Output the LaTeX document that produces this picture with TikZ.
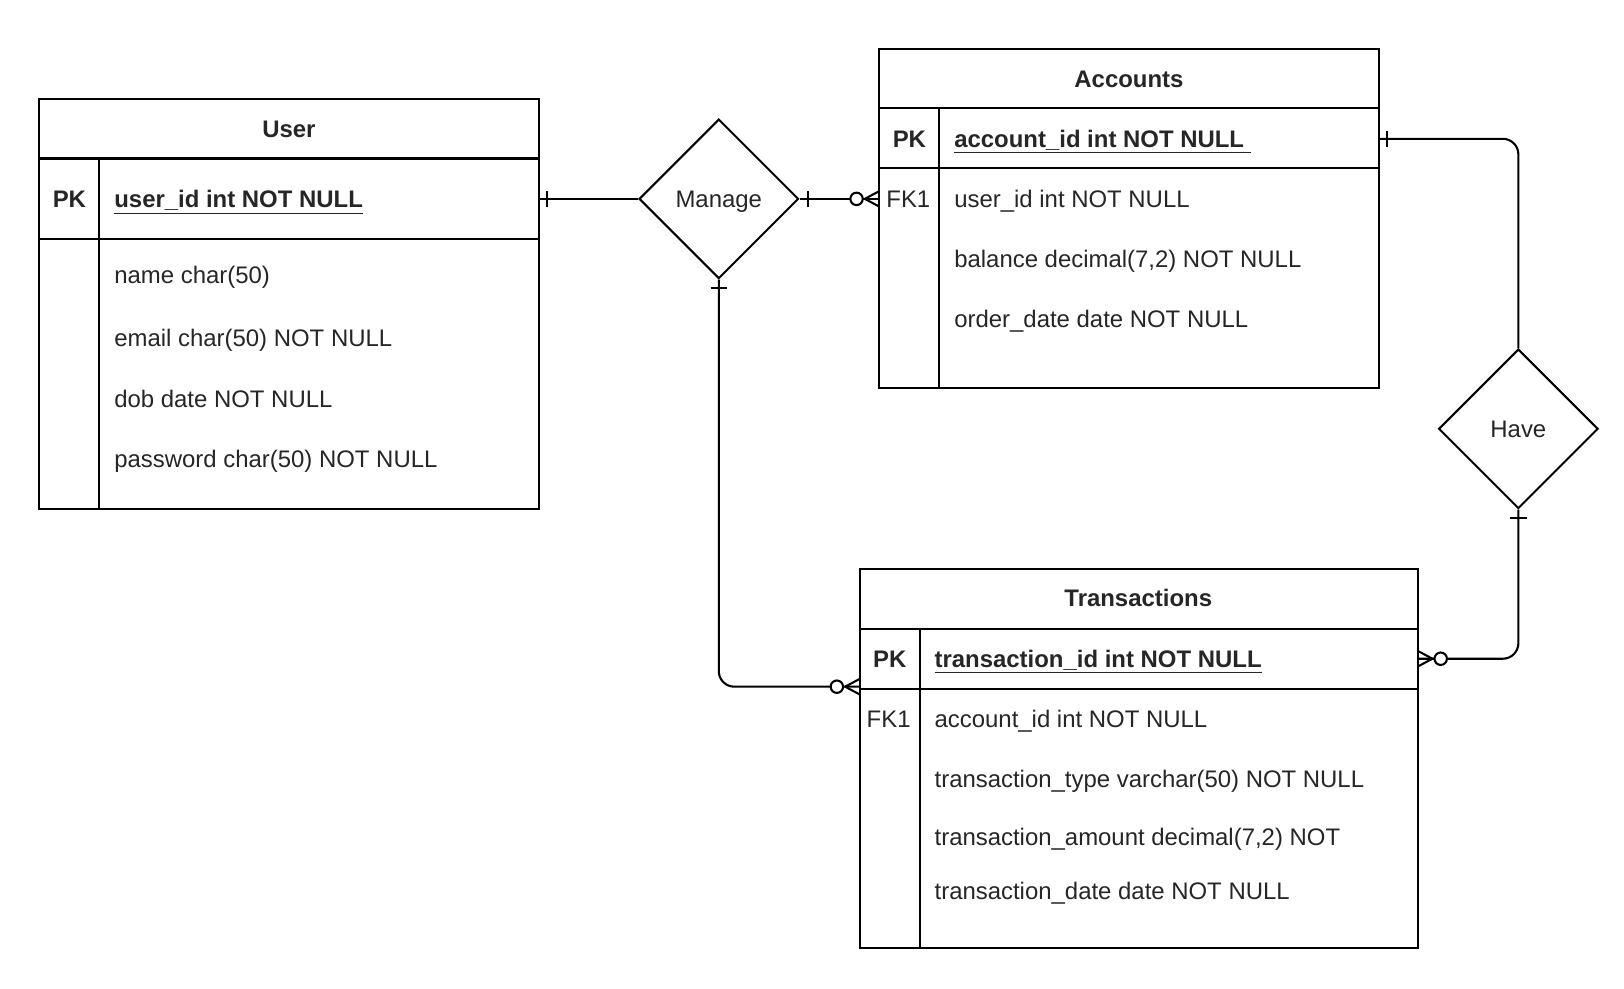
\documentclass[tikz,border=0pt]{standalone}
\usepackage{fontspec}
\setmainfont{Liberation Sans}
\usetikzlibrary{calc,shapes.geometric}
\newcommand\barmark[2]{\draw[conn] ($(#1)+(#2:8)$) +(#2+90:8) -- +(#2-90:8);}
\newcommand\zmany[2]{%
  \draw[conn] ($(#1)+(#2:14)$) -- ($(#1)+(#2+90:7.5)$)
              ($(#1)+(#2:14)$) -- ($(#1)+(#2-90:7.5)$);
  \draw[conn,fill=white] ($(#1)+(#2:22)$) circle[radius=3pt];}
\begin{document}
\begin{tikzpicture}[x=0.5pt,y=-0.5pt,
  conn/.style={line width=1pt,black},
  tbox/.style={draw,line width=1pt,anchor=north west,inner sep=0pt,outer sep=0pt},
  txt/.style={font=\fontsize{11.55}{13}\selectfont,text=black!85,inner sep=0pt,anchor=base},
  hdr/.style={txt,font=\fontsize{11.55}{13}\selectfont\bfseries},
  attr/.style={txt,anchor=base west},
  pkattr/.style={attr,font=\fontsize{11.55}{13}\selectfont\bfseries},
  rel/.style={diamond,draw,line width=1pt,minimum width=77pt,minimum height=77pt,
              inner sep=0pt,text depth=0pt,font=\fontsize{11.55}{13}\selectfont,text=black!85,draw=black}]
\useasboundingbox (0,0) rectangle (1568,954);
\fill[white] (0,0) rectangle (1568,954);

% ---------- User ----------
\node[tbox,minimum width=241pt,minimum height=197.5pt] (user) at (38,96) {};
\draw[conn] (38,153) -- (520,153);
\draw[conn] (38,231) -- (520,231);
\draw[conn] (96,153) -- (96,491);
\node[hdr] (userT) at (279,133) {User};
\node[hdr] (userPKk) at (67,200) {PK};
\node[pkattr] (upk) at (110,200) {\underline{user\_id int NOT NULL}};
\node[attr] (u1) at (110,274) {name char(50)};
\node[attr] (u2) at (110,335) {email char(50) NOT NULL};
\node[attr] (u3) at (110,393) {dob date NOT NULL};
\node[attr] (u4) at (110,451) {password char(50) NOT NULL};

% ---------- Accounts ----------
\node[tbox,minimum width=241pt,minimum height=164pt] (acc) at (849,47) {};
\draw[conn] (849,104) -- (1331,104);
\draw[conn] (849,162) -- (1331,162);
\draw[conn] (907,104) -- (907,375);
\node[hdr] (accT) at (1090,84) {Accounts};
\node[hdr] (accPKk) at (878,142) {PK};
\node[pkattr] (apk) at (921,142) {\underline{account\_id int NOT NULL\ }};
\node[txt] (afk) at (877,200) {FK1};
\node[attr] (a1) at (921,200) {user\_id int NOT NULL};
\node[attr] (a2) at (921,258) {balance decimal(7,2) NOT NULL};
\node[attr] (a3) at (921,316) {order\_date date NOT NULL};

% ---------- Transactions ----------
\node[tbox,minimum width=269.5pt,minimum height=183pt] (tr) at (830,549) {};
\draw[conn] (830,607) -- (1369,607);
\draw[conn] (830,665) -- (1369,665);
\draw[conn] (888,607) -- (888,915);
\node[hdr] (trT) at (1099,586) {Transactions};
\node[hdr] (trPKk) at (859,644) {PK};
\node[pkattr] (tpk) at (902,644) {\underline{transaction\_id int NOT NULL}};
\node[txt] (tfk) at (858,702) {FK1};
\node[attr] (t1) at (902,702) {account\_id int NOT NULL};
\node[attr] (t2) at (902,760) {transaction\_type varchar(50) NOT NULL};
\node[attr] (t3) at (902,816) {transaction\_amount decimal(7,2) NOT};
\node[attr] (t4) at (902,868) {transaction\_date date NOT NULL};

% ---------- Relationships ----------
\node[rel] (manage) at (694,192) {Manage};
\node[rel] (have) at (1466,414) {Have};

% ---------- Connectors ----------
\coordinate (uE) at (user.east |- manage.west);
\coordinate (aW) at (acc.west |- manage.east);
\coordinate (aE) at ($(acc.north east)+(0,87)$);
\coordinate (tW) at ($(tr.north west)+(0,114)$);
\coordinate (tE) at ($(tr.north east)+(0,87)$);

\draw[conn] (uE) -- (manage.west);
\barmark{uE}{0}

\draw[conn] (manage.east) -- (aW);
\barmark{manage.east}{0}
\zmany{aW}{180}

\draw[conn,rounded corners=7.5pt] (manage.south) |- (tW);
\barmark{manage.south}{90}
\zmany{tW}{180}

\draw[conn,rounded corners=7.5pt] (aE) -| (have.north);
\barmark{aE}{0}

\draw[conn,rounded corners=7.5pt] (have.south) |- (tE);
\barmark{have.south}{90}
\zmany{tE}{0}
\end{tikzpicture}
\end{document}
